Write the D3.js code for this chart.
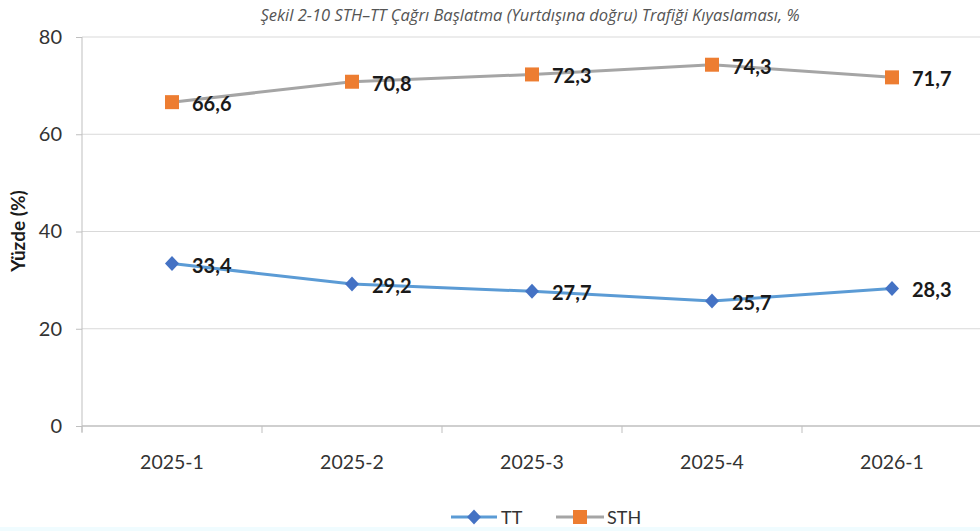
<!DOCTYPE html>
<html><head><meta charset="utf-8">
<script src="https://cdn.jsdelivr.net/npm/d3@7"></script>
<style>body{margin:0;background:#fff;} svg{display:block;}</style>
</head><body>
<svg id="c" width="980" height="531"></svg>
<script>
const categories = ["2025-1","2025-2","2025-3","2025-4","2026-1"];
const ttValues = [33.4, 29.2, 27.7, 25.7, 28.3];
const sthValues = [66.6, 70.8, 72.3, 74.3, 71.7];
const yTicks = [0, 20, 40, 60, 80];
const title = "Şekil 2-10 STH–TT Çağrı Başlatma (Yurtdışına doğru) Trafiği Kıyaslaması, %";
const yTitle = "Yüzde (%)";

const svg = d3.select("#c");
svg.append("rect").attr("x",0).attr("y",527).attr("width",980).attr("height",4).attr("fill","#f0fcff");

const x = d3.scaleBand().domain(categories).range([82, 982]);
const y = d3.scaleLinear().domain([0, 80]).range([426, 37]);
const font = "Lato, 'Open Sans', sans-serif";
const diamond = "M0,-7.5L7,0L0,7.5L-7,0Z";

// gridlines
svg.append("g").selectAll("line").data(yTicks.filter(d=>d>0)).join("line")
  .attr("x1",82).attr("x2",980).attr("y1",d=>y(d)).attr("y2",d=>y(d))
  .attr("stroke","#d9d9d9").attr("stroke-width",1);

// y axis
const ya = svg.append("g").attr("transform","translate(82,0)")
  .call(d3.axisLeft(y).tickValues(yTicks).tickSize(6).tickPadding(14).tickFormat(d3.format("d")));
ya.select(".domain").attr("stroke","#bfbfbf").attr("d","M0,37V432");
ya.selectAll(".tick line").attr("stroke","#bfbfbf");
ya.selectAll("text").attr("font-family",font).attr("font-size",20).attr("fill","#333");

// x axis
const xa = svg.append("g").attr("transform","translate(0,426)")
  .call(d3.axisBottom(x).tickSize(0).tickPadding(29));
xa.select(".domain").attr("stroke","#bfbfbf").attr("stroke-width",1.5).attr("d","M82,0H980");
xa.selectAll("text").attr("font-family",font).attr("font-size",19.5).attr("fill","#333");
const bounds = categories.map(c=>x(c));
svg.append("g").selectAll("line").data(bounds).join("line")
  .attr("x1",d=>d).attr("x2",d=>d).attr("y1",426).attr("y2",433)
  .attr("stroke","#bfbfbf");

const cx = c => x(c) + x.bandwidth()/2;
const line = d3.line().x((d,i)=>cx(categories[i])).y(d=>y(d));

// STH
svg.append("path").datum(sthValues).attr("d",line).attr("fill","none")
  .attr("stroke","#a5a5a5").attr("stroke-width",3);
svg.append("g").selectAll("rect").data(sthValues).join("rect")
  .attr("x",(d,i)=>cx(categories[i])-7).attr("y",d=>y(d)-7)
  .attr("width",14).attr("height",14).attr("fill","#ed7d31");
// TT
svg.append("path").datum(ttValues).attr("d",line).attr("fill","none")
  .attr("stroke","#5b9bd5").attr("stroke-width",3);
svg.append("g").selectAll("path").data(ttValues).join("path")
  .attr("d",diamond)
  .attr("transform",(d,i)=>`translate(${cx(categories[i])},${y(d)})`)
  .attr("fill","#4472c4");

const fmt = v => v.toFixed(1).replace(".",",");
function labels(vals){
  svg.append("g").selectAll("text").data(vals).join("text")
    .attr("x",(d,i)=>cx(categories[i])+20).attr("y",d=>y(d)+9)
    .attr("font-family",font).attr("font-weight","bold").attr("font-size",20)
    .attr("fill","#1a1a1a").text(fmt);
}
labels(sthValues); labels(ttValues);

// title
svg.append("text").attr("x",530).attr("y",21).attr("text-anchor","middle")
  .attr("font-family","'Open Sans', sans-serif").attr("font-style","italic")
  .attr("font-size",16.5).attr("fill","#555").text(title);

// y title
svg.append("text").attr("transform","translate(25,231) rotate(-90)")
  .attr("text-anchor","middle").attr("font-family",font).attr("font-weight","bold")
  .attr("font-size",19).attr("fill","#1a1a1a").text(yTitle);

// legend
const lg = svg.append("g");
lg.append("line").attr("x1",451).attr("x2",497).attr("y1",517).attr("y2",517).attr("stroke","#5b9bd5").attr("stroke-width",3);
lg.append("path").attr("d",diamond).attr("transform","translate(474,517)").attr("fill","#4472c4");
lg.append("text").attr("x",501).attr("y",524).attr("font-family",font).attr("font-size",18).attr("fill","#333").text("TT");
lg.append("line").attr("x1",556).attr("x2",604).attr("y1",517).attr("y2",517).attr("stroke","#a5a5a5").attr("stroke-width",3);
lg.append("rect").attr("x",573).attr("y",510).attr("width",14).attr("height",14).attr("fill","#ed7d31");
lg.append("text").attr("x",607).attr("y",524).attr("font-family",font).attr("font-size",18).attr("fill","#333").text("STH");
</script>
</body></html>
